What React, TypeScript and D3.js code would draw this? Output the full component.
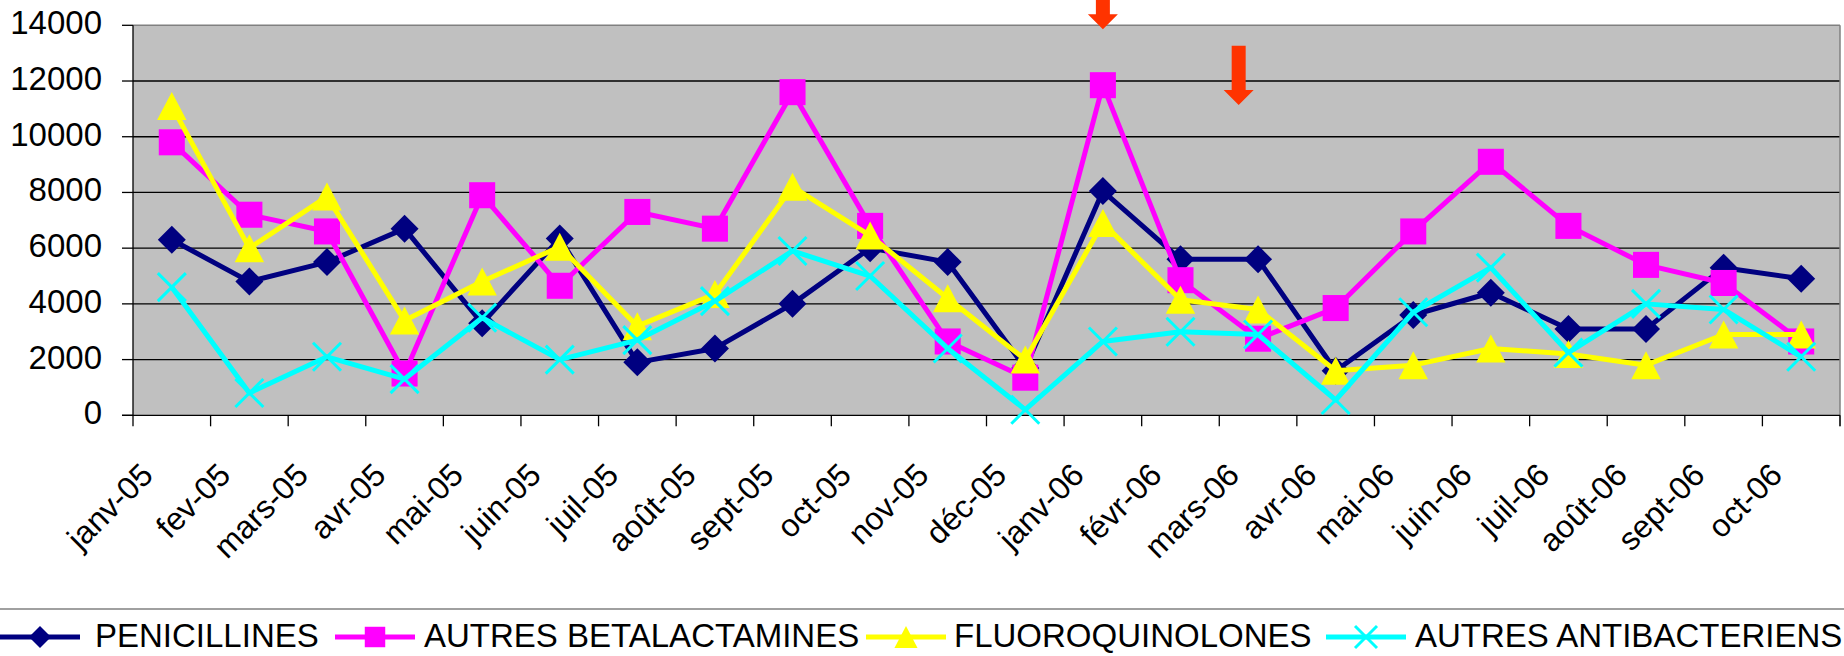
import React from "react";
import * as d3 from "d3";

const categories = ["janv-05","fev-05","mars-05","avr-05","mai-05","juin-05","juil-05","août-05","sept-05","oct-05","nov-05","déc-05","janv-06","févr-06","mars-06","avr-06","mai-06","juin-06","juil-06","août-06","sept-06","oct-06"];

const penicillines = [6300,4800,5500,6700,3300,6350,1900,2400,4000,6000,5500,1700,8050,5600,5600,1600,3600,4400,3100,3100,5300,4900];
const autresBetalactamines = [9800,7200,6600,1500,7900,4650,7300,6700,11600,6800,2650,1350,11850,4850,2750,3850,6600,9100,6800,5400,4750,2650];
const fluoroquinolones = [11100,6000,7850,3400,4800,6050,3200,4350,8200,6450,4200,2000,6900,4150,3800,1600,1800,2400,2200,1800,2900,2900];
const autresAntibacteriens = [4600,800,2100,1300,3500,2000,2700,4100,5900,5000,2400,200,2650,3000,2900,550,3700,5300,2250,4000,3800,2100];

const yTicks = [0,2000,4000,6000,8000,10000,12000,14000];

const seriesNames = ["PENICILLINES","AUTRES BETALACTAMINES","FLUOROQUINOLONES","AUTRES ANTIBACTERIENS"];
const seriesColors = ["#000080","#FF00FF","#FFFF00","#00FFFF"];
const seriesMarkers = ["diamond","square","triangle","x"];

// annotation arrows: category position (fractional index), top value, tip value
const arrowPos = [12, 13.75];
const arrowTop = [14910, 13270];
const arrowTip = [13860, 11140];

const W = 1844, H = 656;
const PL = 133, PR = 1840, PT = 25.3, PB = 415.3;
const FONT = "'Liberation Sans', Arial, sans-serif";
const legendX = [0, 335, 866, 1326];
const legendTextX = [95, 424, 954, 1415];

function Marker({ type, cx, cy, color, s }: any) {
  if (type === "diamond") {
    return <path d={`M${cx},${cy - s}L${cx + s},${cy}L${cx},${cy + s}L${cx - s},${cy}Z`} fill={color} />;
  }
  if (type === "square") {
    const h = s * 0.93;
    return <rect x={cx - h} y={cy - h} width={2 * h} height={2 * h} fill={color} />;
  }
  if (type === "triangle") {
    const hw = s * 1.05, hh = s;
    return <path d={`M${cx},${cy - hh}L${cx + hw},${cy + hh}L${cx - hw},${cy + hh}Z`} fill={color} />;
  }
  return (
    <g stroke={color} strokeWidth={3}>
      <line x1={cx - s} y1={cy - s} x2={cx + s} y2={cy + s} />
      <line x1={cx - s} y1={cy + s} x2={cx + s} y2={cy - s} />
    </g>
  );
}

export default function App() {
  const x = d3.scaleBand<string>().domain(categories).range([PL, PR]).paddingInner(0).paddingOuter(0);
  const bw = x.bandwidth();
  const cx = (i: number) => PL + bw * (i + 0.5);
  const y = d3.scaleLinear().domain([0, 14000]).range([PB, PT]);
  const data = [penicillines, autresBetalactamines, fluoroquinolones, autresAntibacteriens];
  const line = d3.line<number>().x((_, i) => cx(i)).y((d) => y(d));

  return (
    <svg width={W} height={H} style={{ position: "absolute", left: 0, top: 0, background: "#fff" }} fontFamily={FONT}>
      <rect x={PL} y={PT} width={PR - PL} height={PB - PT} fill="#C0C0C0" />
      {yTicks.filter((t) => t > 0 && t < 14000).map((t) => (
        <line key={t} x1={PL} x2={PR} y1={y(t)} y2={y(t)} stroke="#000" strokeWidth={1.3} />
      ))}
      <line x1={PL} x2={PR} y1={y(14000)} y2={y(14000)} stroke="#808080" strokeWidth={1.5} />
      <line x1={PR} x2={PR} y1={PT} y2={PB + 11} stroke="#808080" strokeWidth={1.5} />
      <line x1={PL} x2={PL} y1={PT} y2={PB + 11} stroke="#000" strokeWidth={1.3} />
      <line x1={PL - 11} x2={PR} y1={PB} y2={PB} stroke="#000" strokeWidth={1.3} />
      {yTicks.map((t) => (
        <g key={"yt" + t}>
          <line x1={PL - 11} x2={PL} y1={y(t)} y2={y(t)} stroke="#000" strokeWidth={1.3} />
          <text x={102} y={y(t) + 9} textAnchor="end" fontSize={33} fill="#000">{t}</text>
        </g>
      ))}
      {categories.map((c, i) => (
        <line key={"xt" + c} x1={x(c)! + bw} x2={x(c)! + bw} y1={PB} y2={PB + 11} stroke="#000" strokeWidth={1.3} />
      ))}
      {categories.map((c, i) => (
        <text key={"xl" + c} transform={`translate(${cx(i) - 17},${477}) rotate(-45)`} textAnchor="end" fontSize={32} fill="#000">{c}</text>
      ))}
      {data.map((vals, si) => (
        <g key={"s" + si}>
          <path d={line(vals)!} fill="none" stroke={seriesColors[si]} strokeWidth={5} strokeLinejoin="round" />
          {vals.map((v, i) => (
            <Marker key={i} type={seriesMarkers[si]} cx={cx(i)} cy={y(v)} color={seriesColors[si]} s={14} />
          ))}
        </g>
      ))}
      {arrowPos.map((p, k) => {
        const ax = cx(p);
        const yt = y(arrowTop[k]);
        const yp = y(arrowTip[k]);
        const hl = 15;
        return (
          <path key={"ar" + k} fill="#FF3300"
            d={`M${ax - 7},${yt}L${ax + 7},${yt}L${ax + 7},${yp - hl}L${ax + 15},${yp - hl}L${ax},${yp}L${ax - 15},${yp - hl}L${ax - 7},${yp - hl}Z`} />
        );
      })}
      <line x1={0} x2={W} y1={609} y2={609} stroke="#808080" strokeWidth={1.5} />
      {seriesNames.map((n, si) => {
        const lx = legendX[si];
        return (
          <g key={"lg" + si}>
            <line x1={lx} x2={lx + 80} y1={637} y2={637} stroke={seriesColors[si]} strokeWidth={5} />
            <Marker type={seriesMarkers[si]} cx={lx + 40} cy={637} color={seriesColors[si]} s={11} />
            <text x={legendTextX[si]} y={647} fontSize={33} fill="#000">{n}</text>
          </g>
        );
      })}
    </svg>
  );
}
